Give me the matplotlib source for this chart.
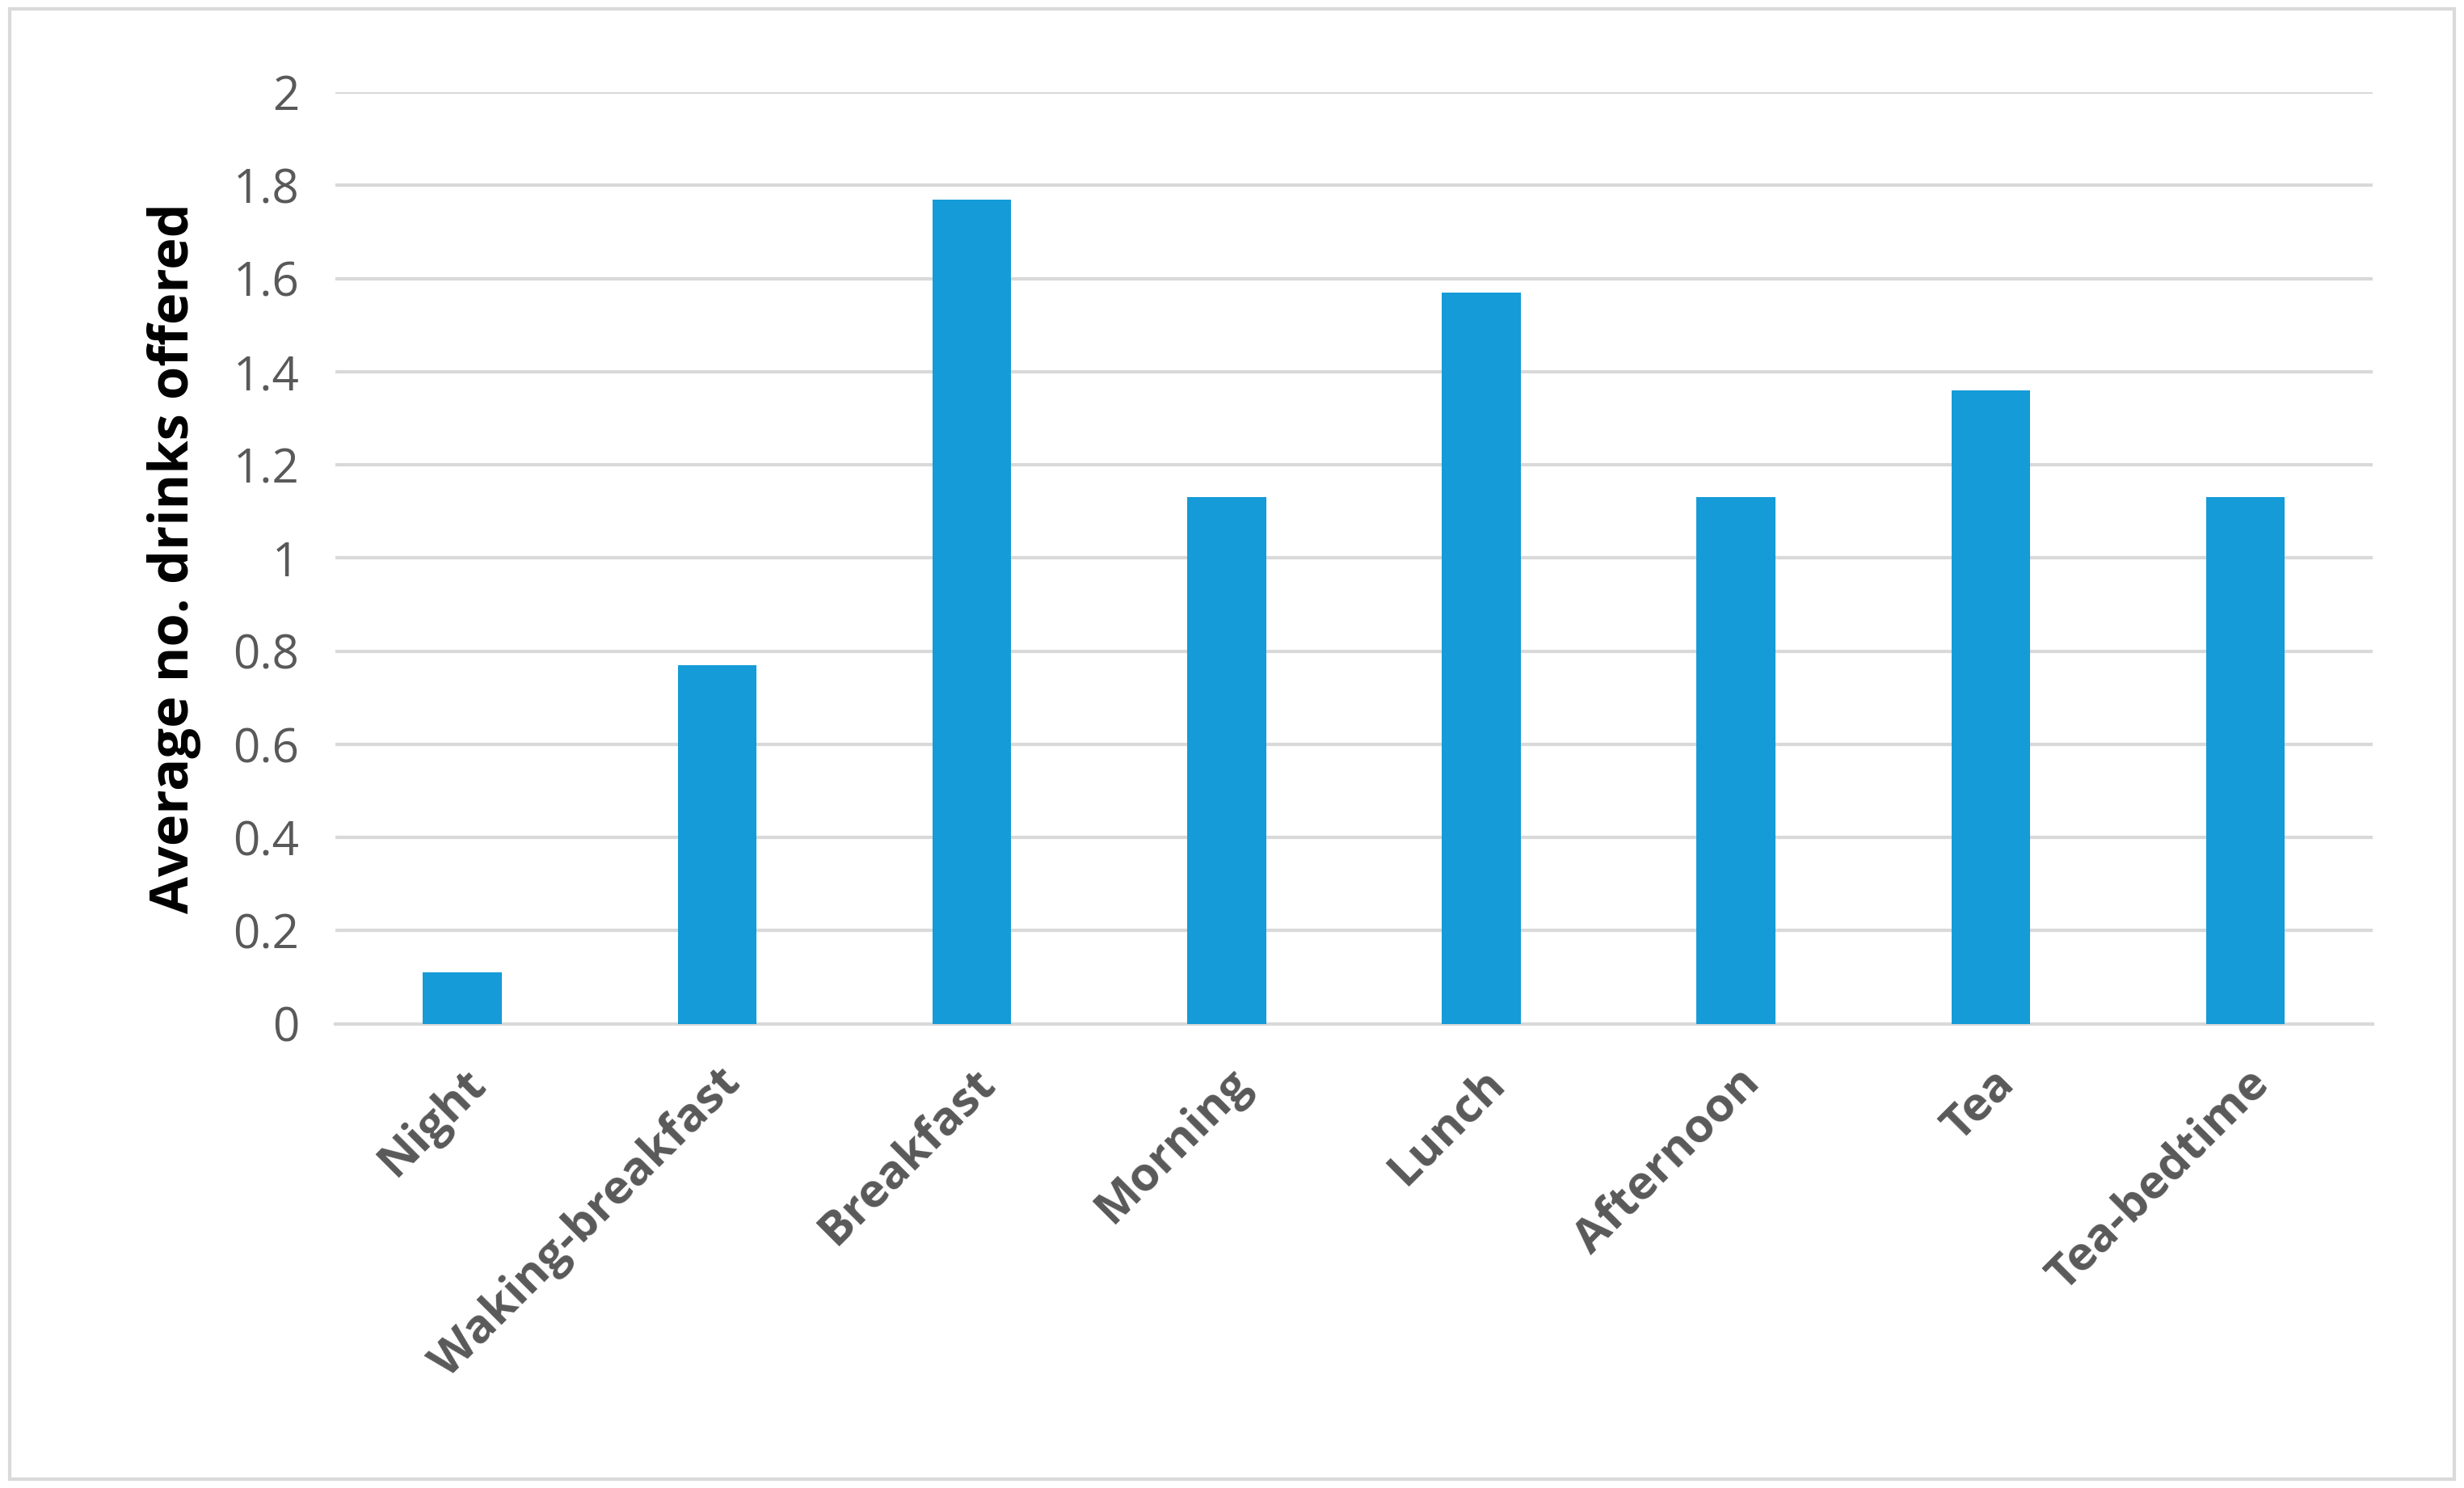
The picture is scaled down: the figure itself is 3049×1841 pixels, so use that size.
import matplotlib.pyplot as plt
from matplotlib.patches import Rectangle

categories = ["Night", "Waking-breakfast", "Breakfast", "Morning",
              "Lunch", "Afternoon", "Tea", "Tea-bedtime"]
values = [0.11, 0.77, 1.77, 1.13, 1.57, 1.13, 1.36, 1.13]
yticks = [0, 0.2, 0.4, 0.6, 0.8, 1, 1.2, 1.4, 1.6, 1.8, 2]
ytick_labels = ["0", "0.2", "0.4", "0.6", "0.8", "1", "1.2", "1.4", "1.6", "1.8", "2"]

plt.rcParams["font.family"] = ["Open Sans", "DejaVu Sans"]
fig = plt.figure(figsize=(15.245, 9.205), dpi=200)
ax = fig.add_axes([0.136, 0.312, 0.827, 0.626])

ax.bar(range(len(categories)), values, width=0.31, color="#159BD7", zorder=3)
ax.set_ylim(0, 2)
ax.set_xlim(-0.5, len(categories) - 0.5)
ax.set_yticks(yticks)
ax.set_yticklabels(ytick_labels, fontsize=21, color="#595959")
ax.set_xticks(range(len(categories)))
ax.set_xticklabels(categories, rotation=45, ha="right", rotation_mode="anchor",
                   fontsize=21, fontweight="bold", color="#595959")
ax.grid(axis="y", color="#D9D9D9", linewidth=1.5, zorder=0)
ax.tick_params(length=0, pad=16)
for s in ["top", "right", "left"]:
    ax.spines[s].set_visible(False)
ax.spines["bottom"].set_color("#D9D9D9")
ax.spines["bottom"].set_linewidth(1.5)
ax.set_ylabel("Average no. drinks offered", fontsize=24, fontweight="bold",
              color="black", labelpad=14)

fig.patches.append(Rectangle((0.004, 0.006), 0.992, 0.988, transform=fig.transFigure,
                             fill=False, edgecolor="#D9D9D9", linewidth=1.5))
fig.savefig("out.png", dpi=200)
